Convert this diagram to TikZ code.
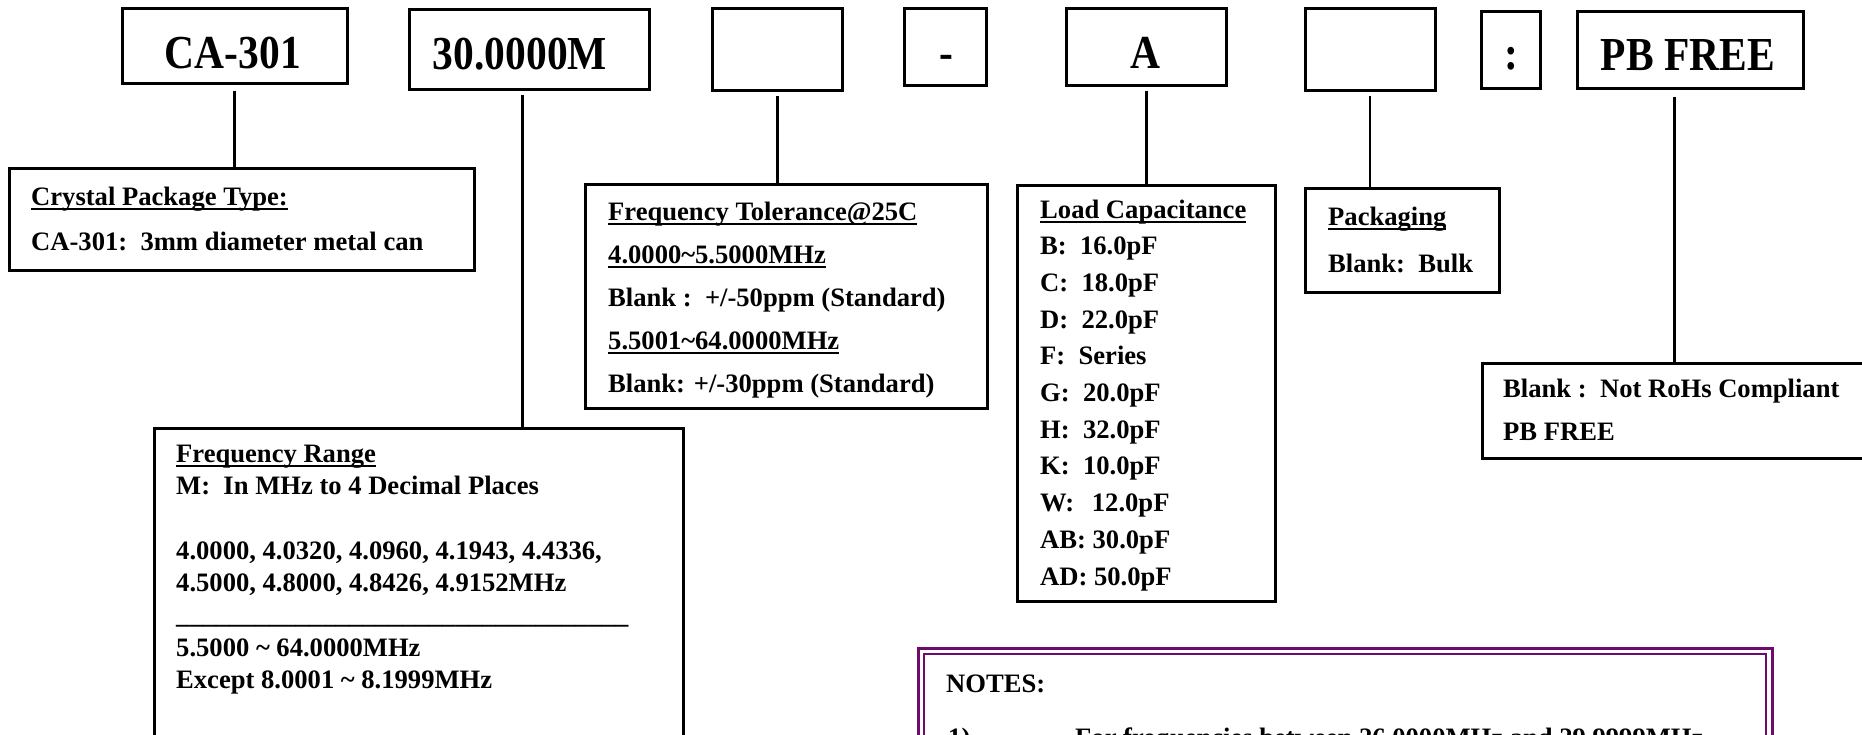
\documentclass[tikz,border=0pt]{standalone}
\usepackage{fontspec}
\usepackage{graphicx}
\setmainfont{Liberation Serif}
\definecolor{notepurple}{RGB}{110,12,110}
\newcommand{\ulx}[1]{\setbox0\hbox{#1}\rlap{\rule[-5pt]{\wd0}{1.8pt}}\box0}
\newcommand{\tallx}[1]{\scalebox{1}[1.14]{#1}}
\tikzset{
  box/.style={draw=black, line width=3pt, inner sep=0pt, rectangle},
  toptxt/.style={font=\fontsize{41.5}{50}\selectfont\bfseries, inner sep=0pt, anchor=base},
  txt/.style={font=\fontsize{26.6}{32}\selectfont\bfseries, inner sep=0pt, anchor=base west},
  conn/.style={line width=3pt},
  thinconn/.style={line width=1.6pt}
}
\begin{document}
\begin{tikzpicture}[x=1pt,y=-1pt]
\useasboundingbox (0,0) rectangle (1862,734);
\fill[white] (0,0) rectangle (1862,734);
\clip (0,0) rectangle (1862,734);

% top row
\node[box, minimum width=225pt, minimum height=75pt] (b1) at (234.5,45.5) {};
\node[box, minimum width=240pt, minimum height=80pt] (b2) at (529,49) {};
\node[box, minimum width=130pt, minimum height=82pt] (b3) at (777,49) {};
\node[box, minimum width=82pt, minimum height=77pt] (b4) at (945,46.5) {};
\node[box, minimum width=160pt, minimum height=77pt] (b5) at (1146,46.5) {};
\node[box, minimum width=130pt, minimum height=82pt] (b6) at (1370,49) {};
\node[box, minimum width=59pt, minimum height=77pt] (b7) at (1510.5,49.5) {};
\node[box, minimum width=226pt, minimum height=77pt] (b8) at (1690,49.5) {};

\node[toptxt] (t1) at (233,68) {\tallx{CA-301}};
\node[toptxt] (t2) at (520,69) {\tallx{30.0000M}};
\node[toptxt] (t4) at (946,68) {\tallx{-}};
\node[toptxt] (t5) at (1145,68) {\tallx{A}};
\node[toptxt] (t7) at (1511,69) {\tallx{:}};
\node[toptxt] (t8) at (1688,70) {\tallx{PB FREE}};

% description boxes
\node[box, minimum width=465pt, minimum height=102pt] (crys) at (241.5,219) {};
\node[box, minimum width=402pt, minimum height=224pt] (tol) at (786,296) {};
\node[box, minimum width=258pt, minimum height=416pt] (load) at (1146,393) {};
\node[box, minimum width=194pt, minimum height=104pt] (pack) at (1402,240) {};
\node[box, minimum width=398pt, minimum height=95pt] (rohs) at (1681,410.5) {};
\node[box, minimum width=529pt, minimum height=352pt] (range) at (418.5,604) {};

% notes box (double purple border)
\node[draw=notepurple, line width=3pt, inner sep=0pt, minimum width=854pt, minimum height=172pt] (notes) at (1345,734) {};
\node[draw=notepurple, line width=1.6pt, inner sep=0pt, minimum width=842pt, minimum height=160pt] (notesin) at (notes.center) {};

% connectors
\draw[conn] ([yshift=-6pt]b1.south) -- (b1.south |- crys.north);
\coordinate (c2top) at ([xshift=-7pt,yshift=-4pt]b2.south);
\draw[conn] (c2top) -- (c2top |- range.north);
\draw[conn] ([yshift=-4pt]b3.south) -- (b3.south |- tol.north);
\draw[conn] ([yshift=-4pt]b5.south) -- (b5.south |- load.north);
\draw[thinconn] ([yshift=-4pt]b6.south) -- (b6.south |- pack.north);
\coordinate (c8top) at ([xshift=-16pt,yshift=-7pt]b8.south);
\draw[conn] (c8top) -- (c8top |- rohs.north);

% crystal package text
\node[txt] (cr1) at (31,205) {\ulx{Crystal Package Type:}};
\node[txt] (cr2) at (31,250) {CA-301:\ \ 3mm diameter metal can};

% tolerance text
\node[txt] (to1) at (608,220) {\ulx{Frequency Tolerance@25C}};
\node[txt] (to2) at (608,263) {\ulx{4.0000\textasciitilde5.5000MHz}};
\node[txt] (to3) at (608,306) {Blank :\ \ +/-50ppm (Standard)};
\node[txt] (to4) at (608,349) {\ulx{5.5001\textasciitilde64.0000MHz}};
\node[txt] (to5) at (608,392) {Blank: +/-30ppm (Standard)};

% load capacitance text
\node[txt] (lo0) at (1040,218) {\ulx{Load Capacitance}};
\node[txt] (lo1) at (1040,254.7) {B:\ \ 16.0pF};
\node[txt] (lo2) at (1040,291.4) {C:\ \ 18.0pF};
\node[txt] (lo3) at (1040,328.1) {D:\ \ 22.0pF};
\node[txt] (lo4) at (1040,364.8) {F:\ \ Series};
\node[txt] (lo5) at (1040,401.5) {G:\ \ 20.0pF};
\node[txt] (lo6) at (1040,438.2) {H:\ \ 32.0pF};
\node[txt] (lo7) at (1040,474.9) {K:\ \ 10.0pF};
\node[txt] (lo8) at (1040,511.6) {W:\ \ \,12.0pF};
\node[txt] (lo9) at (1040,548.3) {AB: 30.0pF};
\node[txt] (lo10) at (1040,585) {AD: 50.0pF};

% packaging text
\node[txt] (pa1) at (1328,225) {\ulx{Packaging}};
\node[txt] (pa2) at (1328,272) {Blank:\ \ Bulk};

% rohs text
\node[txt] (ro1) at (1503,397) {Blank :\ \ Not RoHs Compliant};
\node[txt] (ro2) at (1503,440) {PB FREE};

% frequency range text
\node[txt] (ra1) at (176,462) {\ulx{Frequency Range}};
\node[txt] (ra2) at (176,494) {M:\ \ In MHz to 4 Decimal Places};
\node[txt] (ra3) at (176,559) {4.0000, 4.0320, 4.0960, 4.1943, 4.4336,};
\node[txt] (ra4) at (176,591) {4.5000, 4.8000, 4.8426, 4.9152MHz};
\node[txt] (ra5) at (176,623) {\_\_\_\_\_\_\_\_\_\_\_\_\_\_\_\_\_\_\_\_\_\_\_\_\_\_\_\_\_\_\_\_\_\_};
\node[txt] (ra6) at (176,656) {5.5000 \textasciitilde{} 64.0000MHz};
\node[txt] (ra7) at (176,688) {Except 8.0001 \textasciitilde{} 8.1999MHz};

% notes text
\node[txt] (no1) at (946,692) {NOTES:};
\node[txt] (no2) at (948,746) {1)};
\node[txt] (no3) at (1075,746) {For frequencies between 26.0000MHz and 29.9999MHz};
\end{tikzpicture}
\end{document}
